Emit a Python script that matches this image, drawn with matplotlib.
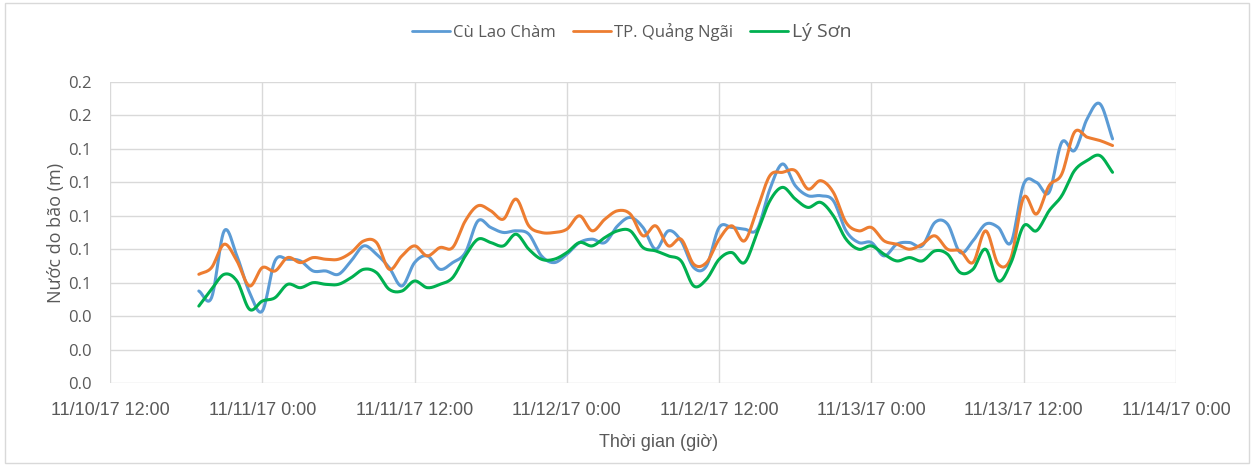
import numpy as np
import pandas as pd
import matplotlib
matplotlib.use("Agg")
import matplotlib.pyplot as plt
import matplotlib.dates as mdates
from matplotlib.patches import Rectangle

# hourly surge readings, 11/10/17 19:00 -> 11/13/17 19:00
times = pd.date_range("2017-11-10 19:00", "2017-11-13 19:00", freq="h")

cu_lao_cham = [0.055, 0.051, 0.091, 0.076, 0.054, 0.043, 0.073, 0.074, 0.073, 0.067,
               0.067, 0.065, 0.073, 0.082, 0.077, 0.069, 0.058, 0.072, 0.076, 0.068,
               0.072, 0.078, 0.097, 0.093, 0.090, 0.091, 0.089, 0.076, 0.072, 0.077,
               0.084, 0.086, 0.084, 0.094, 0.099, 0.093, 0.080, 0.091, 0.085, 0.069,
               0.070, 0.093, 0.093, 0.092, 0.092, 0.116, 0.131, 0.118, 0.112, 0.112,
               0.109, 0.091, 0.084, 0.084, 0.076, 0.083, 0.084, 0.082, 0.096, 0.095,
               0.078, 0.085, 0.095, 0.093, 0.084, 0.119, 0.120, 0.114, 0.144, 0.139,
               0.158, 0.167, 0.146]
quang_ngai = [0.065, 0.069, 0.083, 0.073, 0.058, 0.069, 0.067, 0.075, 0.072, 0.075,
              0.074, 0.074, 0.078, 0.085, 0.084, 0.068, 0.076, 0.082, 0.076, 0.081,
              0.081, 0.097, 0.106, 0.103, 0.098, 0.110, 0.094, 0.090, 0.090, 0.092,
              0.100, 0.091, 0.098, 0.103, 0.101, 0.088, 0.094, 0.082, 0.086, 0.071,
              0.072, 0.086, 0.094, 0.085, 0.104, 0.124, 0.126, 0.127, 0.116, 0.121,
              0.114, 0.096, 0.091, 0.093, 0.085, 0.083, 0.080, 0.083, 0.088, 0.080,
              0.079, 0.072, 0.091, 0.071, 0.075, 0.111, 0.101, 0.118, 0.125, 0.150,
              0.147, 0.145, 0.142]
ly_son = [0.046, 0.056, 0.065, 0.061, 0.044, 0.049, 0.051, 0.059, 0.057, 0.060,
          0.059, 0.059, 0.063, 0.068, 0.066, 0.056, 0.055, 0.061, 0.057, 0.059,
          0.063, 0.076, 0.086, 0.084, 0.082, 0.089, 0.080, 0.074, 0.074, 0.078,
          0.084, 0.082, 0.087, 0.091, 0.091, 0.081, 0.079, 0.076, 0.073, 0.058,
          0.062, 0.074, 0.078, 0.072, 0.090, 0.109, 0.117, 0.110, 0.105, 0.108,
          0.100, 0.086, 0.080, 0.082, 0.077, 0.073, 0.075, 0.073, 0.079, 0.077,
          0.066, 0.068, 0.080, 0.061, 0.072, 0.094, 0.091, 0.103, 0.112, 0.127,
          0.133, 0.136, 0.126]

names = ["Cù Lao Chàm", "TP. Quảng Ngãi", "Lý Sơn"]
colors = ["#5B9BD5", "#ED7D31", "#00B050"]

tick_times = pd.date_range("2017-11-10 12:00", "2017-11-14 00:00", freq="12h")
y_ticks = [0.0, 0.02, 0.04, 0.06, 0.08, 0.10, 0.12, 0.14, 0.16, 0.18]


def smooth(x, y, n=12):
    # catmull-rom curve through the points, like excel's "smoothed line"
    x = np.asarray(x, float)
    y = np.asarray(y, float)
    xp = np.concatenate([[2 * x[0] - x[1]], x, [2 * x[-1] - x[-2]]])
    yp = np.concatenate([[2 * y[0] - y[1]], y, [2 * y[-1] - y[-2]]])
    xs, ys = [], []
    t = np.linspace(0, 1, n, endpoint=False)
    for i in range(1, len(xp) - 2):
        for arr, out in ((xp, xs), (yp, ys)):
            p0, p1, p2, p3 = arr[i - 1], arr[i], arr[i + 1], arr[i + 2]
            m1 = (p2 - p0) / 2
            m2 = (p3 - p1) / 2
            h00 = 2 * t**3 - 3 * t**2 + 1
            h10 = t**3 - 2 * t**2 + t
            h01 = -2 * t**3 + 3 * t**2
            h11 = t**3 - t**2
            out.extend(h00 * p1 + h10 * m1 + h01 * p2 + h11 * m2)
    xs.append(x[-1])
    ys.append(y[-1])
    return np.array(xs), np.array(ys)


fig = plt.figure(figsize=(12.57, 4.66), dpi=100)
ax = fig.add_axes([110 / 1257, 1 - 383 / 466, (1176 - 110) / 1257, (383 - 82) / 466])

xnum = mdates.date2num(times.to_pydatetime())
lines = []
for vals, name, c in zip([cu_lao_cham, quang_ngai, ly_son], names, colors):
    sx, sy = smooth(xnum, vals)
    ln, = ax.plot(sx, sy, color=c, lw=2.2, label=name, solid_capstyle="round")
    lines.append(ln)

tnum = mdates.date2num(tick_times.to_pydatetime())
ax.set_xlim(tnum[0], tnum[-1])
ax.set_ylim(0, 0.18)
ax.set_xticks(tnum)
ax.set_xticklabels([f"{d.month}/{d.day}/{d:%y} {d.hour}:{d:%M}" for d in tick_times])
ax.set_yticks(y_ticks)
ax.set_yticklabels([f"{v:.1f}" for v in y_ticks])

ax.grid(True, color="#d9d9d9", lw=1)
ax.set_axisbelow(True)
for s in ax.spines.values():
    s.set_visible(False)
ax.tick_params(length=0, colors="#595959")
ax.tick_params(axis="y", pad=13, labelsize=12)
ax.tick_params(axis="x", pad=14, labelsize=13)
for lab in ax.get_yticklabels():
    lab.set_family("Open Sans")
for lab in ax.get_xticklabels():
    lab.set_family(["Liberation Sans Narrow", "Liberation Sans"])

ax.set_ylabel("Nước do bão (m)", fontsize=13, color="#595959", family="Open Sans")
ax.yaxis.set_label_coords(-45 / 1066, 0.5)
ax.set_xlabel("Thời gian (giờ)", fontsize=13, color="#595959",
              family=["Liberation Sans Narrow", "Liberation Sans"])
ax.xaxis.set_label_coords(0.515, -51 / 301)

leg = fig.legend(handles=lines, loc="center", bbox_to_anchor=(0.5024, 1 - 32 / 466), ncol=3,
                 frameon=False, handlelength=2.3, columnspacing=1.0, handletextpad=0.2,
                 prop={"family": "Open Sans", "size": 12})
for t in leg.get_texts():
    t.set_color("#595959")
leg.get_texts()[2].set_fontsize(14)
for h in leg.legend_handles:
    h.set_linewidth(2)

fig.patches.append(Rectangle((0.004, 0.006), 0.99, 0.988, transform=fig.transFigure,
                             fill=False, edgecolor="#d9d9d9", lw=1))

fig.savefig("out.png", dpi=100)
